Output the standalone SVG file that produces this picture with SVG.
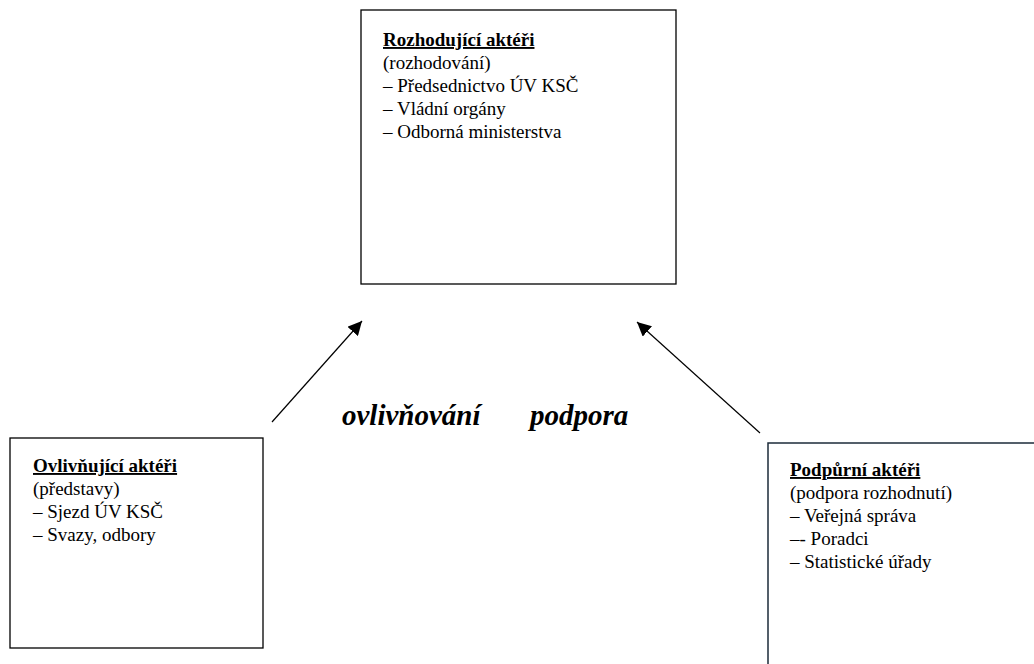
<svg xmlns="http://www.w3.org/2000/svg" width="1034" height="664" viewBox="0 0 1034 664">
<style>
.box{fill:#fff;stroke:#000;stroke-width:1.3}
.box2{fill:#fff;stroke:#1c2b3a;stroke-width:1.5}
.t{font-family:"Liberation Serif","Times New Roman",serif;font-size:19px;fill:#000}
.h{font-weight:bold;text-decoration:underline}
.lbl{font-family:"Liberation Serif","Times New Roman",serif;font-size:29px;font-weight:bold;font-style:italic;fill:#000}
.ar{stroke:#000;stroke-width:1.2;fill:none}
</style>
<defs>
<marker id="ah" viewBox="0 0 10 10" refX="10" refY="5" markerWidth="14" markerHeight="14" markerUnits="userSpaceOnUse" orient="auto">
<path d="M0,0 L10,5 L0,10 z" fill="#000"/>
</marker>
</defs>
<rect width="1034" height="664" fill="#fff"/>
<g id="connectors">
<line class="ar" x1="272" y1="422" x2="362" y2="321" marker-end="url(#ah)"/>
<line class="ar" x1="760" y1="433" x2="637" y2="322" marker-end="url(#ah)"/>
<text class="lbl" x="342" y="425">ovlivňování</text>
<text class="lbl" x="530" y="425">podpora</text>
</g>
<g id="rozhodujici">
<rect class="box" x="361" y="10" width="315" height="274"/>
<text class="t" x="383" y="46"><tspan class="h">Rozhodující aktéři</tspan></text>
<text class="t" x="383" y="69">(rozhodování)</text>
<text class="t" x="383" y="92">– Předsednictvo ÚV KSČ</text>
<text class="t" x="383" y="115">– Vládní orgány</text>
<text class="t" x="383" y="138">– Odborná ministerstva</text>
</g>
<g id="ovlivnujici">
<rect class="box" x="10" y="438" width="253" height="210"/>
<text class="t" x="33" y="472"><tspan class="h">Ovlivňující aktéři</tspan></text>
<text class="t" x="33" y="495">(představy)</text>
<text class="t" x="33" y="518">– Sjezd ÚV KSČ</text>
<text class="t" x="33" y="541">– Svazy, odbory</text>
</g>
<g id="podpurni">
<rect class="box2" x="768" y="443" width="300" height="260"/>
<text class="t" x="790" y="476"><tspan class="h">Podpůrní aktéři</tspan></text>
<text class="t" x="790" y="499">(podpora rozhodnutí)</text>
<text class="t" x="790" y="522">– Veřejná správa</text>
<text class="t" x="790" y="545">–- Poradci</text>
<text class="t" x="790" y="568">– Statistické úřady</text>
</g>
</svg>
